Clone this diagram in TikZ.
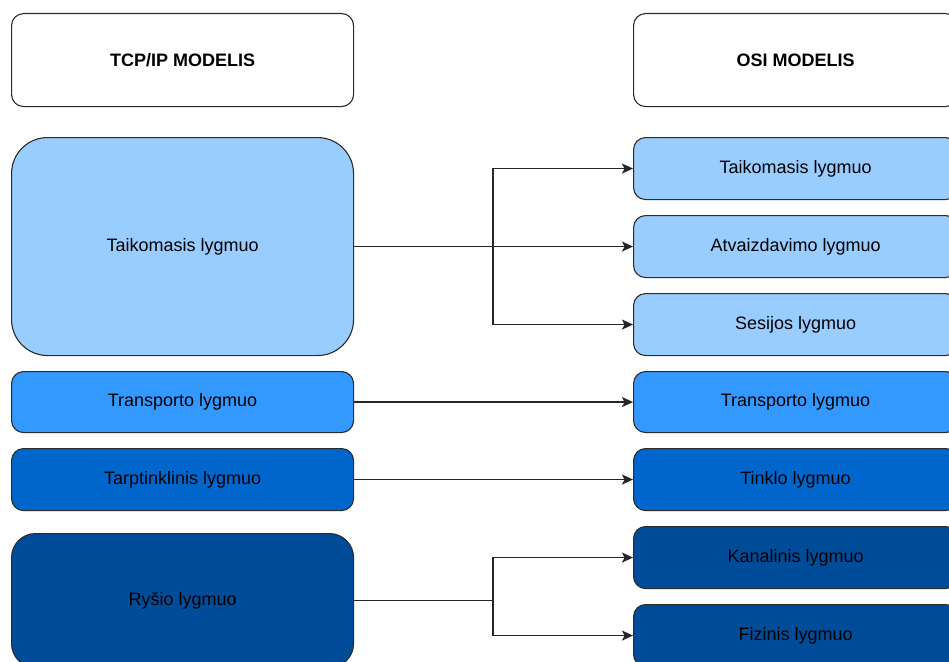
\documentclass[tikz,border=0pt]{standalone}
\usepackage{fontspec}
\setmainfont{Liberation Sans}
\usetikzlibrary{arrows.meta}
\definecolor{edge}{HTML}{2B2B2B}
\definecolor{lvlA}{HTML}{99CCFF}
\definecolor{lvlB}{HTML}{3399FF}
\definecolor{lvlC}{HTML}{0066CC}
\definecolor{lvlD}{HTML}{004C99}
\tikzset{
  layer/.style={draw=edge, line width=1.1pt, rounded corners=12pt, anchor=north west,
    inner sep=0pt, font=\fontsize{18}{21}\selectfont, text=black},
  head/.style={layer, fill=white, minimum width=342pt, minimum height=93pt,
    font=\fontsize{18}{21}\selectfont\bfseries},
  leftbox/.style={layer, minimum width=342pt},
  rightbox/.style={layer, minimum width=324pt, minimum height=62pt},
  wire/.style={draw=black!85, line width=1.3pt},
  link/.style={wire, -{Stealth[length=11pt,width=10pt,inset=2.5pt]}}
}
\begin{document}
\begin{tikzpicture}[x=1pt,y=-1pt]
\useasboundingbox (0,0) rectangle (949,661);
\clip (0,0) rectangle (949,661);
\fill[white] (0,0) rectangle (949,661);

% column headings
\node[head] (tcp) at (11,13) {TCP/IP MODELIS};
\node[head, minimum width=324pt] (osi) at (633,13) {OSI MODELIS};

% TCP/IP layers
\node[leftbox, fill=lvlA, minimum height=218pt, rounded corners=36pt] (tApp) at (11,137) {Taikomasis lygmuo};
\node[leftbox, fill=lvlB, minimum height=61pt] (tTr) at (11,371) {Transporto lygmuo};
\node[leftbox, fill=lvlC, minimum height=62pt] (tNet) at (11,448) {Tarptinklinis lygmuo};
\node[leftbox, fill=lvlD, minimum height=134pt, rounded corners=24pt] (tLink) at (11,533) {Ryšio lygmuo};

% OSI layers
\node[rightbox, fill=lvlA] (oApp) at (633,137) {Taikomasis lygmuo};
\node[rightbox, fill=lvlA] (oPres) at (633,215) {Atvaizdavimo lygmuo};
\node[rightbox, fill=lvlA] (oSes) at (633,293) {Sesijos lygmuo};
\node[rightbox, fill=lvlB, minimum height=61pt] (oTr) at (633,371) {Transporto lygmuo};
\node[rightbox, fill=lvlC] (oNet) at (633,448) {Tinklo lygmuo};
\node[rightbox, fill=lvlD] (oDl) at (633,526) {Kanalinis lygmuo};
\node[rightbox, fill=lvlD] (oPhy) at (633,604) {Fizinis lygmuo};

% branch points on the splitting column
\coordinate (col) at (493,0);
\coordinate (bUp) at (tApp.east -| col);
\coordinate (bDown) at (tLink.east -| col);

% connectors
\draw[link] (tApp.east) -- (oPres.west);
\draw[link] (bUp) |- (oApp.west);
\draw[link] (bUp) |- (oSes.west);
\draw[link] (tTr.east) -- (oTr.west);
\draw[link] (tNet.east) -- (oNet.west);
\draw[wire] (tLink.east) -- (bDown);
\draw[link] (bDown) |- (oDl.west);
\draw[link] (bDown) |- (oPhy.west);
\end{tikzpicture}
\end{document}
